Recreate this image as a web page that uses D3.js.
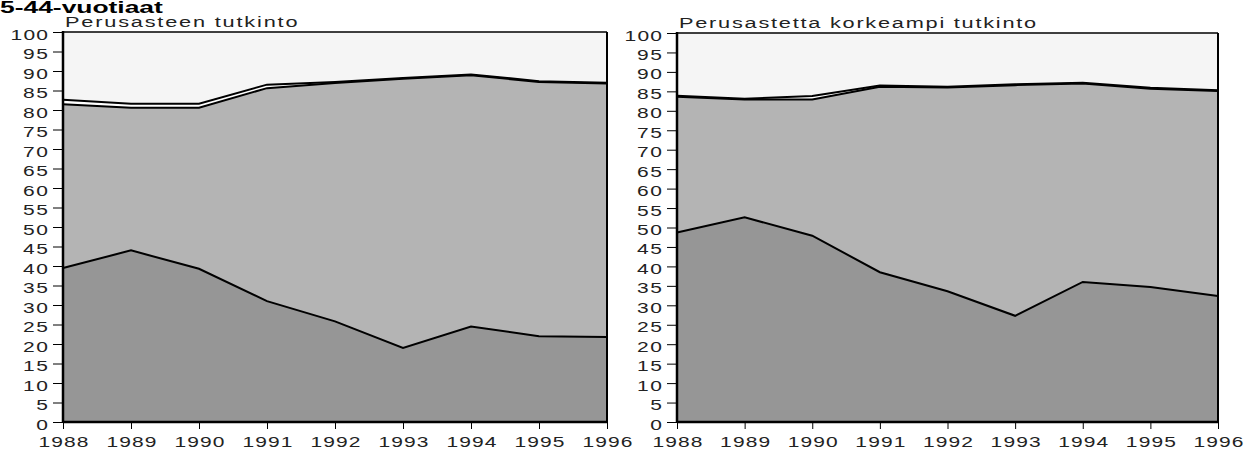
<!DOCTYPE html>
<html>
<head>
<meta charset="utf-8">
<script src="https://cdn.jsdelivr.net/npm/d3@7"></script>
<style>
  body { margin: 0; background: #fff; }
  text { font-family: "Liberation Sans", Arial, sans-serif; }
</style>
</head>
<body>
<svg width="1246" height="450"></svg>
<script>
// years on the x axis
var years = [1988, 1989, 1990, 1991, 1992, 1993, 1994, 1995, 1996];
var yTickValues = [0, 5, 10, 15, 20, 25, 30, 35, 40, 45, 50, 55, 60, 65, 70, 75, 80, 85, 90, 95, 100];

var heading = "5-44-vuotiaat";
var panelTitles = ["Perusasteen tutkinto", "Perusastetta korkeampi tutkinto"];

// left panel, layer shares (%), bottom to top
var leftDark = [39.5, 44.0, 39.3, 31.0, 25.8, 19.0, 24.5, 22.0, 21.8];
var leftMid  = [42.0, 36.6, 41.3, 54.6, 61.1, 69.0, 64.4, 65.2, 65.0];
var leftThin = [1.1, 1.0, 1.0, 0.9, 0.3, 0.2, 0.2, 0.2, 0.2];
var leftTop  = [17.4, 18.4, 18.4, 13.5, 12.8, 11.8, 10.9, 12.6, 13.0];

// right panel
var rightDark = [48.7, 52.6, 47.9, 38.5, 33.6, 27.3, 36.0, 34.7, 32.4];
var rightMid  = [34.9, 30.3, 35.0, 47.7, 52.4, 59.3, 51.0, 51.0, 52.7];
var rightThin = [0.3, 0.2, 0.9, 0.3, 0.2, 0.2, 0.2, 0.2, 0.2];
var rightTop  = [16.1, 16.9, 16.2, 13.5, 13.8, 13.2, 12.8, 14.1, 14.7];

var layerKeys = ["dark", "mid", "thin", "top"];
var layerColors = { dark: "#969696", mid: "#b4b4b4", thin: "#ffffff", top: "#f5f5f5" };

var svg = d3.select("svg");

// widen text: glyphs scaled by g, the rest of the width k made up by spacing
function stretch(sel, k, g) {
    sel.each(function () {
        var t = d3.select(this);
        var w = this.getComputedTextLength();
        var x = +t.attr("x") || 0;
        t.attr("transform", "scale(" + g + ",1)")
            .attr("x", x / g)
            .attr("textLength", w * k / g)
            .attr("lengthAdjust", "spacing");
    });
}

function tableOf(dark, mid, thin, top) {
    return years.map(function (yr, i) {
        return { year: yr, dark: dark[i], mid: mid[i], thin: thin[i], top: top[i] };
    });
}

var panels = [
    { x0: 63, x1: 607, top: 32, bottom: 422, titleY: 27, title: panelTitles[0],
      rows: tableOf(leftDark, leftMid, leftThin, leftTop) },
    { x0: 677, x1: 1218, top: 33, bottom: 422, titleY: 28, title: panelTitles[1],
      rows: tableOf(rightDark, rightMid, rightThin, rightTop) }
];

panels.forEach(function (p) {
    var x = d3.scaleLinear().domain([1988, 1996]).range([p.x0, p.x1]);
    var y = d3.scaleLinear().domain([0, 100]).range([p.bottom, p.top]);

    var series = d3.stack().keys(layerKeys)(p.rows);

    var g = svg.append("g");

    var area = d3.area()
        .x(function (d) { return x(d.data.year); })
        .y0(function (d) { return y(d[0]); })
        .y1(function (d) { return y(d[1]); });

    g.selectAll("path.layer")
        .data(series)
        .enter().append("path")
        .attr("class", "layer")
        .attr("fill", function (s) { return layerColors[s.key]; })
        .attr("d", area);

    // black boundary lines at the top of each layer (not the 100 line)
    var line = d3.line()
        .x(function (d) { return x(d.data.year); })
        .y(function (d) { return y(d[1]); });

    g.selectAll("path.edge")
        .data(series.slice(0, 3))
        .enter().append("path")
        .attr("class", "edge")
        .attr("fill", "none")
        .attr("stroke", "#000")
        .attr("stroke-width", 2)
        .attr("d", line);

    // frame
    g.append("line").attr("x1", p.x0).attr("x2", p.x1).attr("y1", p.top).attr("y2", p.top)
        .attr("stroke", "#000").attr("stroke-width", 1.5);
    g.append("line").attr("x1", p.x1).attr("x2", p.x1).attr("y1", p.top).attr("y2", p.bottom)
        .attr("stroke", "#000").attr("stroke-width", 2);
    g.append("line").attr("x1", p.x0).attr("x2", p.x1).attr("y1", p.bottom).attr("y2", p.bottom)
        .attr("stroke", "#000").attr("stroke-width", 2.5);
    g.append("line").attr("x1", p.x0).attr("x2", p.x0).attr("y1", p.top - 1).attr("y2", p.bottom + 1)
        .attr("stroke", "#000").attr("stroke-width", 2.5);

    // y axis
    var ya = g.append("g")
        .attr("transform", "translate(" + p.x0 + ",0)")
        .call(d3.axisLeft(y).tickValues(yTickValues).tickSize(10).tickPadding(5));
    ya.select(".domain").remove();
    ya.selectAll(".tick line").attr("stroke", "#000");
    ya.selectAll(".tick text")
        .attr("dy", 0).attr("y", 7)
        .attr("fill", "#222")
        .style("font-size", "15px");
    stretch(ya.selectAll(".tick text"), 1.5, 1.4);

    // x axis
    var xa = g.append("g")
        .attr("transform", "translate(0," + p.bottom + ")")
        .call(d3.axisBottom(x).tickValues(years).tickFormat(d3.format("d")).tickSize(7));
    xa.select(".domain").remove();
    xa.selectAll(".tick line").attr("stroke", "#000");
    xa.selectAll(".tick text")
        .attr("dy", 0).attr("y", 25)
        .attr("fill", "#222")
        .style("font-size", "15px");
    stretch(xa.selectAll(".tick text"), 1.5, 1.4);

    // panel title
    var t = g.append("text")
        .attr("x", p.x0 + 2)
        .attr("y", p.titleY)
        .attr("fill", "#222")
        .style("font-size", "15px")
        .text(p.title);
    stretch(t, 1.7, 1.45);
});

var h = svg.append("text")
    .attr("x", 0)
    .attr("y", 13)
    .attr("fill", "#000")
    .style("font-size", "16px")
    .style("font-weight", "bold")
    .text(heading);
h.each(function () {
    d3.select(this)
        .attr("textLength", this.getComputedTextLength() * 1.65)
        .attr("lengthAdjust", "spacingAndGlyphs");
});
</script>
</body>
</html>
